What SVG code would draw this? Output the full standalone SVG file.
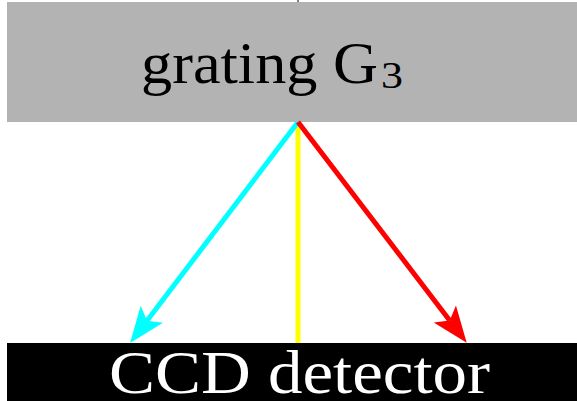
<svg xmlns="http://www.w3.org/2000/svg" width="577" height="401" viewBox="0 0 577 401">
<style>
.ray{stroke-width:5;fill:none}
.lbl{font-family:"Liberation Serif","DejaVu Serif",serif}
</style>
<defs>
<marker id="ac" markerUnits="userSpaceOnUse" markerWidth="40" markerHeight="32" viewBox="-10 -16 40 32" refX="0" refY="0" orient="auto" overflow="visible"><path d="M28,0 L-8,-14 L0,0 L-8,14 Z" fill="#00ffff"/></marker>
<marker id="ar" markerUnits="userSpaceOnUse" markerWidth="40" markerHeight="32" viewBox="-10 -16 40 32" refX="0" refY="0" orient="auto" overflow="visible"><path d="M28,0 L-8,-14 L0,0 L-8,14 Z" fill="#ff0000"/></marker>
</defs>
<line x1="298" y1="0" x2="298" y2="2" stroke="#000" stroke-width="1"/>
<g id="grating">
<rect x="7" y="2" width="570" height="120" fill="#b3b3b3"/>
<text class="lbl" x="141" y="83" font-size="60" fill="#000" textLength="237" lengthAdjust="spacingAndGlyphs">grating G</text>
<text class="lbl" x="381" y="88" font-size="38" fill="#000" textLength="22" lengthAdjust="spacingAndGlyphs">3</text>
</g>
<g id="ccd">
<rect x="7" y="343" width="570" height="58" fill="#000"/>
<text class="lbl" x="109" y="393" font-size="62" fill="#fff" textLength="381" lengthAdjust="spacingAndGlyphs">CCD detector</text>
</g>
<g id="connectors">
<line class="ray" x1="298" y1="122" x2="298" y2="343" stroke="#ffff00"/>
<line class="ray" x1="298" y1="122" x2="147" y2="320.7" stroke="#00ffff" marker-end="url(#ac)"/>
<line class="ray" x1="298" y1="122" x2="449.7" y2="320.4" stroke="#ff0000" marker-end="url(#ar)"/>
</g>
</svg>
